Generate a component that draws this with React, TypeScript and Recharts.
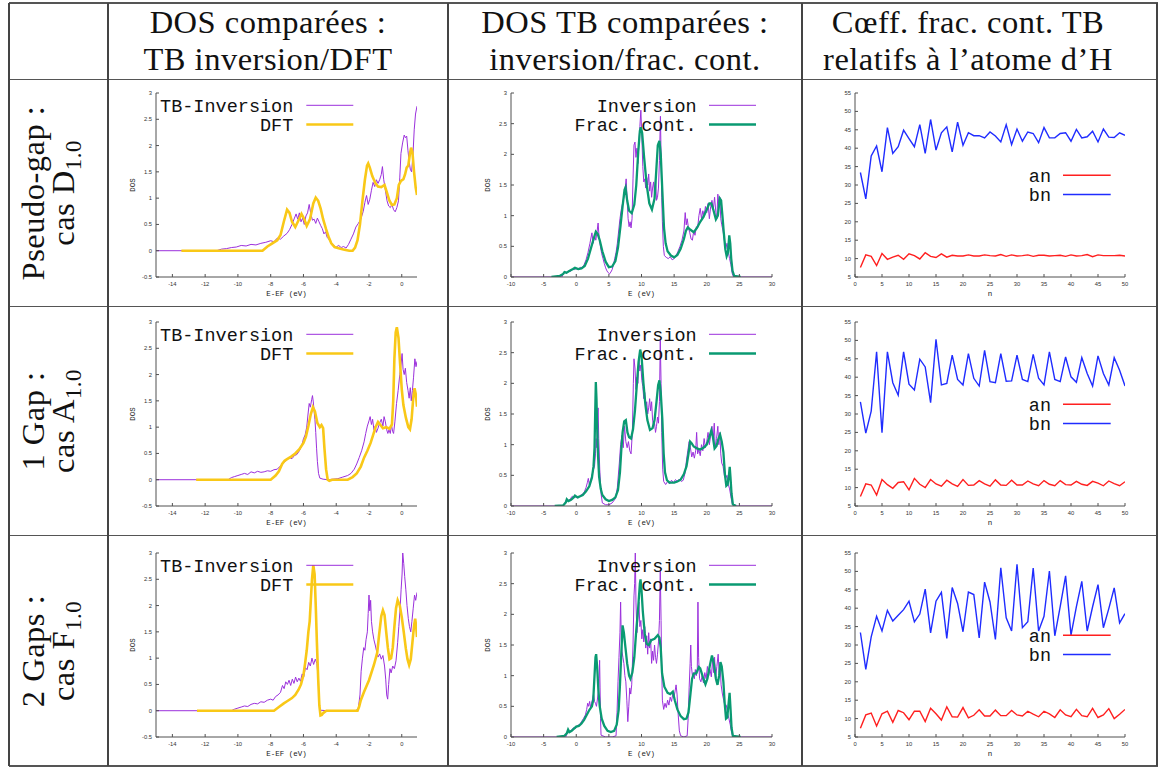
import React from 'react'
import { LineChart, Line, XAxis, YAxis } from 'recharts'

// ---------- column 1 : DOS, TB inversion vs DFT (E - EF in eV) ----------
const invD = [[-15,0],[-11.3,0],[-11,0.03],[-10.7,0.04],[-10.4,0.06],[-10.1,0.07],[-9.8,0.1],[-9.5,0.09],[-9.2,0.12],[-8.9,0.11],[-8.6,0.14],[-8.3,0.16],[-8.0,0.19],[-7.8,0.17],[-7.6,0.24],[-7.4,0.22],[-7.2,0.28],[-7.0,0.33],[-6.85,0.4],[-6.7,0.5],[-6.55,0.62],[-6.45,0.7],[-6.35,0.6],[-6.25,0.72],[-6.15,0.55],[-6.05,0.62],[-5.95,0.5],[-5.85,0.66],[-5.75,0.72],[-5.65,0.88],[-5.55,0.7],[-5.45,0.58],[-5.35,0.6],[-5.25,0.52],[-5.15,0.62],[-5.05,0.55],[-4.95,0.48],[-4.85,0.42],[-4.75,0.32],[-4.65,0.36],[-4.55,0.25],[-4.45,0.22],[-4.3,0.15],[-4.15,0.1],[-4.0,0.07],[-3.85,0.1],[-3.7,0.06],[-3.55,0.08],[-3.4,0.05],[-3.25,0.12],[-3.1,0.22],[-2.95,0.32],[-2.8,0.45],[-2.65,0.52],[-2.5,0.6],[-2.35,0.75],[-2.25,0.92],[-2.15,1.05],[-2.05,0.88],[-1.95,0.98],[-1.85,1.15],[-1.75,1.3],[-1.65,1.22],[-1.55,1.35],[-1.45,1.28],[-1.35,1.35],[-1.25,1.45],[-1.18,1.6],[-1.1,1.35],[-1.0,1.15],[-0.9,0.95],[-0.8,0.85],[-0.7,0.82],[-0.6,0.88],[-0.5,0.78],[-0.4,0.74],[-0.3,0.82],[-0.2,0.95],[-0.12,1.4],[-0.05,1.85],[0.05,2.05],[0.15,2.2],[0.22,2.15],[0.3,2.18],[0.38,1.9],[0.45,1.7],[0.52,1.55],[0.6,1.5],[0.68,1.8],[0.76,2.3],[0.84,2.6],[0.93,2.75]]
const dftD = [[-13.45,0],[-8.5,0],[-8.2,0.08],[-7.9,0.14],[-7.6,0.2],[-7.4,0.3],[-7.2,0.55],[-7.0,0.78],[-6.85,0.72],[-6.7,0.55],[-6.5,0.45],[-6.3,0.58],[-6.12,0.7],[-5.95,0.6],[-5.8,0.47],[-5.6,0.6],[-5.4,0.9],[-5.25,1.01],[-5.1,0.95],[-4.95,0.8],[-4.8,0.6],[-4.63,0.42],[-4.45,0.25],[-4.3,0.14],[-4.1,0.07],[-3.8,0.04],[-3.5,0.02],[-3.2,0.0],[-3.0,0.0],[-2.85,0.06],[-2.7,0.2],[-2.55,0.5],[-2.4,0.95],[-2.25,1.35],[-2.12,1.62],[-2.05,1.66],[-1.95,1.58],[-1.8,1.42],[-1.6,1.28],[-1.45,1.22],[-1.25,1.21],[-1.05,1.25],[-0.9,1.1],[-0.75,0.95],[-0.6,0.87],[-0.45,0.88],[-0.3,1.0],[-0.18,1.25],[-0.05,1.33],[0.1,1.36],[0.2,1.45],[0.3,1.58],[0.4,1.62],[0.5,1.85],[0.57,1.96],[0.65,1.88],[0.75,1.5],[0.85,1.2],[0.93,1.06]]
const invA = [[-15,0],[-10.6,0],[-10.4,0.04],[-10.2,0.06],[-10.0,0.08],[-9.8,0.1],[-9.6,0.12],[-9.4,0.1],[-9.2,0.15],[-9.0,0.13],[-8.8,0.16],[-8.6,0.14],[-8.4,0.15],[-8.2,0.17],[-8.0,0.16],[-7.8,0.19],[-7.6,0.2],[-7.45,0.25],[-7.3,0.3],[-7.15,0.34],[-7.0,0.38],[-6.85,0.42],[-6.7,0.4],[-6.55,0.46],[-6.4,0.48],[-6.25,0.55],[-6.1,0.65],[-6.0,0.78],[-5.9,0.85],[-5.8,1.0],[-5.72,1.25],[-5.65,1.45],[-5.58,1.38],[-5.5,1.52],[-5.45,1.6],[-5.4,1.48],[-5.35,1.3],[-5.3,1.15],[-5.25,0.9],[-5.2,0.6],[-5.15,0.35],[-5.08,0.12],[-5.0,0.03],[-4.8,0.01],[-4.5,0.0],[-4.2,0.01],[-3.9,0.02],[-3.6,0.05],[-3.3,0.08],[-3.1,0.12],[-2.9,0.2],[-2.75,0.3],[-2.6,0.42],[-2.45,0.55],[-2.3,0.72],[-2.2,0.88],[-2.1,1.02],[-2.0,1.12],[-1.93,1.2],[-1.85,1.05],[-1.78,1.15],[-1.7,0.95],[-1.62,1.02],[-1.55,0.9],[-1.45,0.98],[-1.35,1.08],[-1.25,1.15],[-1.15,1.02],[-1.08,1.2],[-1.0,1.1],[-0.92,0.95],[-0.85,0.88],[-0.78,0.95],[-0.7,0.88],[-0.63,1.05],[-0.56,0.92],[-0.5,0.88],[-0.42,1.1],[-0.32,1.45],[-0.22,1.7],[-0.12,2.0],[-0.04,2.2],[0.02,2.4],[0.08,2.1],[0.15,2.0],[0.22,2.12],[0.3,1.85],[0.38,1.7],[0.45,1.55],[0.52,1.75],[0.58,1.5],[0.65,1.7],[0.72,1.95],[0.8,2.3],[0.87,2.15],[0.93,2.25]]
const dftA = [[-12.55,0],[-8.0,0],[-7.7,0.08],[-7.5,0.16],[-7.3,0.3],[-7.15,0.36],[-7.0,0.39],[-6.75,0.44],[-6.5,0.5],[-6.25,0.58],[-6.0,0.7],[-5.85,0.82],[-5.7,1.02],[-5.55,1.25],[-5.42,1.38],[-5.3,1.3],[-5.15,1.08],[-5.0,1.0],[-4.9,1.04],[-4.8,0.98],[-4.72,0.6],[-4.62,0.2],[-4.52,0.0],[-4.42,-0.02],[-4.25,0.0],[-3.3,0.0],[-3.0,0.05],[-2.75,0.12],[-2.5,0.25],[-2.3,0.42],[-2.1,0.55],[-1.9,0.7],[-1.75,0.85],[-1.6,1.0],[-1.45,1.1],[-1.3,1.04],[-1.15,0.98],[-0.95,1.0],[-0.75,0.97],[-0.6,1.05],[-0.52,1.5],[-0.45,2.3],[-0.37,2.8],[-0.3,2.9],[-0.2,2.7],[-0.1,2.2],[0.0,1.72],[0.1,1.42],[0.25,1.18],[0.4,1.0],[0.5,0.96],[0.6,1.15],[0.7,1.55],[0.78,1.74],[0.86,1.62],[0.93,1.39]]
const invF = [[-15,0],[-10.4,0],[-10.2,0.03],[-10.0,0.05],[-9.8,0.07],[-9.6,0.09],[-9.4,0.08],[-9.2,0.12],[-9.0,0.14],[-8.8,0.13],[-8.6,0.17],[-8.4,0.16],[-8.2,0.2],[-8.0,0.22],[-7.85,0.2],[-7.7,0.27],[-7.55,0.3],[-7.4,0.35],[-7.28,0.48],[-7.18,0.42],[-7.08,0.55],[-6.98,0.5],[-6.88,0.58],[-6.78,0.48],[-6.68,0.6],[-6.58,0.52],[-6.48,0.64],[-6.38,0.55],[-6.28,0.62],[-6.18,0.56],[-6.08,0.7],[-5.98,0.65],[-5.88,0.82],[-5.78,0.78],[-5.68,0.92],[-5.58,0.85],[-5.48,1.0],[-5.38,0.88],[-5.28,0.98],[-5.18,0.9],[-5.1,0.6],[-5.05,0.2],[-5.0,0.01],[-4.5,0.0],[-2.8,0.0],[-2.65,0.05],[-2.55,0.3],[-2.48,0.75],[-2.4,1.0],[-2.32,1.2],[-2.25,1.15],[-2.18,1.35],[-2.1,1.5],[-2.05,1.85],[-2.0,2.2],[-1.95,1.9],[-1.9,2.1],[-1.85,1.7],[-1.78,1.5],[-1.7,1.35],[-1.62,1.25],[-1.55,1.15],[-1.45,1.02],[-1.35,1.08],[-1.25,0.98],[-1.15,1.05],[-1.05,0.85],[-0.98,0.6],[-0.92,0.3],[-0.86,0.22],[-0.8,0.5],[-0.72,0.8],[-0.65,0.72],[-0.55,0.85],[-0.45,0.8],[-0.35,0.95],[-0.25,1.3],[-0.18,1.6],[-0.1,1.95],[-0.04,2.3],[0.02,2.6],[0.06,3.0],[0.12,2.8],[0.18,2.55],[0.25,2.3],[0.32,2.0],[0.4,1.75],[0.47,1.6],[0.55,1.5],[0.62,1.7],[0.7,1.95],[0.78,2.2],[0.85,2.1],[0.93,2.25]]
const dftF = [[-12.5,0],[-7.8,0],[-7.5,0.07],[-7.2,0.14],[-7.0,0.18],[-6.7,0.24],[-6.5,0.3],[-6.3,0.4],[-6.15,0.5],[-6.0,0.68],[-5.9,0.9],[-5.8,1.15],[-5.7,1.5],[-5.62,1.7],[-5.55,2.1],[-5.48,2.5],[-5.4,2.77],[-5.32,2.6],[-5.25,2.0],[-5.18,1.3],[-5.1,0.6],[-5.03,0.1],[-4.96,-0.09],[-4.88,-0.08],[-4.78,-0.04],[-4.6,0.0],[-2.7,0.0],[-2.6,0.08],[-2.5,0.2],[-2.3,0.36],[-2.0,0.58],[-1.7,0.87],[-1.5,1.1],[-1.38,1.45],[-1.25,1.8],[-1.15,1.91],[-1.05,1.82],[-0.95,1.5],[-0.85,1.2],[-0.75,0.98],[-0.65,1.0],[-0.55,1.2],[-0.45,1.6],[-0.35,1.95],[-0.25,2.1],[-0.12,2.0],[0.0,1.78],[0.12,1.5],[0.25,1.18],[0.35,0.98],[0.45,0.87],[0.55,0.98],[0.65,1.3],[0.75,1.62],[0.82,1.75],[0.88,1.6],[0.93,1.4]]

// ---------- column 2 : DOS, inversion vs continued fraction (E in eV) ----------
const invD2 = [[-10,0],[-2.2,0],[-2.0,0.05],[-1.8,0.09],[-1.5,0.06],[-1.2,0.1],[-0.9,0.09],[-0.6,0.13],[-0.3,0.12],[0,0.14],[0.3,0.12],[0.6,0.16],[0.9,0.14],[1.2,0.2],[1.5,0.28],[1.8,0.4],[2.1,0.55],[2.4,0.72],[2.6,0.55],[2.8,0.68],[3.0,0.6],[3.2,0.75],[3.35,0.88],[3.5,0.65],[3.7,0.5],[3.9,0.38],[4.1,0.3],[4.3,0.22],[4.5,0.15],[4.7,0.1],[4.9,0.07],[5.1,0.05],[5.3,0.08],[5.5,0.12],[5.7,0.2],[5.9,0.3],[6.1,0.4],[6.3,0.55],[6.5,0.75],[6.7,0.95],[6.9,1.1],[7.1,1.2],[7.3,1.3],[7.5,1.45],[7.65,1.6],[7.8,1.25],[7.95,0.95],[8.1,0.82],[8.25,0.9],[8.4,0.8],[8.55,0.95],[8.7,1.6],[8.85,2.15],[9.0,2.2],[9.15,1.95],[9.3,2.1],[9.45,1.85],[9.6,2.2],[9.75,2.45],[9.9,2.72],[10.05,2.3],[10.2,1.8],[10.35,1.55],[10.5,1.6],[10.65,1.45],[10.8,1.62],[10.95,1.5],[11.1,1.68],[11.25,1.4],[11.4,1.55],[11.55,1.3],[11.7,1.45],[11.85,1.55],[12.0,1.35],[12.15,1.6],[12.3,1.25],[12.45,1.3],[12.6,1.45],[12.75,1.9],[12.9,2.62],[13.0,2.0],[13.1,1.3],[13.2,0.9],[13.35,0.5],[13.5,0.35],[13.8,0.32],[14.1,0.3],[14.4,0.33],[14.7,0.28],[15.0,0.3],[15.3,0.35],[15.6,0.42],[15.9,0.5],[16.2,0.6],[16.5,0.75],[16.7,1.05],[16.85,0.85],[17.0,0.95],[17.2,0.8],[17.4,0.72],[17.6,0.62],[17.8,0.6],[18.0,0.75],[18.2,0.68],[18.4,0.82],[18.6,0.8],[18.8,1.0],[19.0,1.12],[19.2,0.95],[19.4,1.08],[19.6,1.0],[19.8,1.15],[20.0,1.05],[20.2,1.2],[20.4,0.95],[20.6,1.15],[20.8,1.25],[21.0,1.1],[21.2,1.3],[21.4,1.05],[21.55,0.95],[21.7,1.35],[21.85,1.2],[22.0,1.3],[22.15,0.95],[22.3,0.85],[22.5,0.75],[22.7,0.6],[22.9,0.45],[23.1,0.55],[23.3,0.4],[23.5,0.3],[23.7,0.2],[23.9,0.06],[24.1,0],[30,0]]
const fcD = [[-3.8,0],[-2.5,0.02],[-2.0,0.05],[-1.8,0.08],[-1.5,0.07],[-1.0,0.1],[-0.5,0.13],[-0.2,0.15],[0.3,0.13],[0.8,0.14],[1.3,0.18],[1.8,0.3],[2.2,0.45],[2.6,0.6],[3.0,0.74],[3.3,0.7],[3.6,0.6],[4.0,0.42],[4.5,0.25],[5.0,0.16],[5.5,0.17],[6.0,0.26],[6.4,0.48],[6.8,0.85],[7.1,1.15],[7.4,1.42],[7.55,1.46],[7.8,1.25],[8.1,1.08],[8.5,1.04],[8.9,1.18],[9.2,1.5],[9.5,2.04],[9.75,2.38],[9.9,2.44],[10.1,2.35],[10.4,1.95],[10.8,1.5],[11.2,1.2],[11.6,1.1],[12.0,1.28],[12.3,1.8],[12.5,2.15],[12.75,2.22],[12.95,2.0],[13.2,1.39],[13.45,0.8],[13.7,0.55],[14.0,0.42],[14.5,0.35],[15.0,0.32],[15.5,0.36],[16.0,0.46],[16.5,0.62],[16.8,0.75],[17.1,0.81],[17.5,0.77],[18.0,0.73],[18.5,0.8],[19.0,0.9],[19.5,0.98],[20.0,1.1],[20.4,1.2],[20.7,1.2],[21.0,1.1],[21.4,0.94],[21.7,1.0],[22.0,1.28],[22.2,1.25],[22.4,1.0],[22.6,0.74],[22.85,0.45],[23.05,0.34],[23.25,0.4],[23.45,0.68],[23.6,0.55],[23.75,0.3],[23.95,0.1],[24.2,0.02],[25.2,0]]
const invA2 = [[-10,0],[-2,0],[-1.7,0.05],[-1.5,0.1],[-1.2,0.08],[-0.9,0.12],[-0.6,0.16],[-0.3,0.14],[0,0.15],[0.3,0.13],[0.6,0.17],[0.9,0.19],[1.2,0.22],[1.5,0.3],[1.7,0.38],[1.85,0.45],[2.0,0.35],[2.2,0.42],[2.4,0.5],[2.6,0.58],[2.8,0.65],[2.95,0.85],[3.05,1.1],[3.15,0.95],[3.25,1.4],[3.35,1.6],[3.45,1.1],[3.6,0.6],[3.8,0.2],[4.0,0.05],[4.5,0.02],[5.0,0.02],[5.5,0.05],[6.0,0.12],[6.3,0.3],[6.6,0.7],[6.8,1.0],[7.0,1.15],[7.2,0.95],[7.4,1.3],[7.6,1.05],[7.8,0.95],[8.0,1.05],[8.2,0.9],[8.4,0.85],[8.6,1.2],[8.75,2.0],[8.85,2.4],[9.0,2.25],[9.15,1.9],[9.3,2.1],[9.45,2.0],[9.6,2.4],[9.75,2.2],[9.9,2.3],[10.05,2.05],[10.2,1.95],[10.35,1.75],[10.5,1.85],[10.65,1.6],[10.8,1.7],[10.95,1.5],[11.1,1.6],[11.25,1.75],[11.4,1.55],[11.55,1.7],[11.7,1.4],[11.85,1.3],[12.0,1.35],[12.15,1.2],[12.3,1.3],[12.45,1.45],[12.6,1.35],[12.75,1.7],[12.88,2.7],[13.0,2.0],[13.1,1.2],[13.25,0.6],[13.4,0.4],[13.7,0.35],[14.0,0.4],[14.3,0.36],[14.6,0.42],[14.9,0.38],[15.2,0.43],[15.5,0.4],[15.8,0.44],[16.1,0.4],[16.4,0.42],[16.7,0.55],[16.9,0.75],[17.1,0.9],[17.3,1.05],[17.5,0.95],[17.7,0.8],[17.9,0.88],[18.1,0.78],[18.3,0.9],[18.45,1.2],[18.6,0.85],[18.8,0.92],[19.0,0.82],[19.2,1.0],[19.4,0.9],[19.6,1.1],[19.8,0.95],[20.0,1.05],[20.2,1.2],[20.4,1.0],[20.6,1.15],[20.8,1.3],[21.0,1.1],[21.15,1.35],[21.3,0.95],[21.5,1.1],[21.7,1.3],[21.85,1.0],[22.0,1.2],[22.15,0.85],[22.3,0.7],[22.5,0.65],[22.7,0.5],[22.9,0.45],[23.1,0.5],[23.3,0.35],[23.5,0.28],[23.7,0.15],[23.9,0.04],[24.1,0],[30,0]]
const fcA = [[-3.3,0],[-2.0,0.01],[-1.6,0.06],[-1.45,0.11],[-1.2,0.08],[-0.8,0.1],[-0.4,0.14],[-0.2,0.17],[0.2,0.14],[0.6,0.16],[1.0,0.18],[1.5,0.24],[2.0,0.32],[2.4,0.46],[2.65,0.65],[2.8,0.95],[2.9,1.5],[3.0,2.02],[3.1,1.75],[3.2,1.3],[3.35,0.8],[3.5,0.48],[3.75,0.28],[4.0,0.18],[4.5,0.11],[5.0,0.08],[5.5,0.1],[6.0,0.14],[6.4,0.26],[6.7,0.55],[6.9,0.9],[7.1,1.2],[7.35,1.38],[7.6,1.4],[7.85,1.2],[8.1,1.12],[8.4,1.1],[8.7,1.25],[9.0,1.56],[9.3,2.0],[9.55,2.35],[9.8,2.55],[10.0,2.45],[10.3,2.0],[10.6,1.65],[10.9,1.4],[11.3,1.24],[11.7,1.27],[12.0,1.4],[12.3,1.7],[12.55,1.97],[12.75,2.05],[12.95,1.85],[13.2,1.4],[13.4,0.85],[13.6,0.55],[13.9,0.42],[14.3,0.38],[15.0,0.38],[15.5,0.4],[16.0,0.43],[16.5,0.52],[16.9,0.65],[17.2,0.85],[17.45,1.05],[17.7,1.02],[18.0,0.97],[18.5,0.94],[19.0,0.92],[19.5,0.95],[20.0,1.0],[20.4,1.12],[20.7,1.23],[20.95,1.12],[21.2,0.94],[21.5,0.98],[21.8,1.1],[22.05,1.16],[22.3,1.05],[22.55,0.88],[22.8,0.5],[23.0,0.33],[23.2,0.35],[23.4,0.5],[23.52,0.64],[23.65,0.45],[23.8,0.2],[24.0,0.03],[24.5,0]]
const invF2 = [[-10,0],[-1.6,0],[-1.3,0.1],[-1.0,0.08],[-0.7,0.12],[-0.4,0.15],[-0.1,0.14],[0.2,0.19],[0.5,0.2],[0.8,0.25],[1.1,0.3],[1.4,0.36],[1.6,0.45],[1.75,0.55],[1.9,0.5],[2.05,0.58],[2.2,0.48],[2.35,0.55],[2.5,0.62],[2.65,0.7],[2.8,0.58],[2.95,0.55],[3.1,0.5],[3.25,0.62],[3.4,0.75],[3.5,0.95],[3.58,1.25],[3.65,0.8],[3.72,0.3],[3.8,0.03],[4.5,0.0],[5.5,0.0],[6.1,0.02],[6.25,0.4],[6.4,0.9],[6.55,1.3],[6.7,1.7],[6.8,2.2],[6.9,1.6],[7.0,1.4],[7.15,1.3],[7.3,1.2],[7.45,1.0],[7.6,0.9],[7.75,0.6],[7.9,0.25],[8.05,0.5],[8.2,0.8],[8.35,0.7],[8.5,0.85],[8.7,1.5],[8.85,2.3],[8.95,2.5],[9.05,3.0],[9.15,2.2],[9.3,1.7],[9.45,1.95],[9.6,2.2],[9.75,1.8],[9.9,1.9],[10.05,1.6],[10.2,1.75],[10.35,1.55],[10.5,1.8],[10.65,1.45],[10.8,1.65],[10.95,1.35],[11.1,1.7],[11.25,1.45],[11.4,1.6],[11.55,1.2],[11.7,1.4],[11.85,1.25],[12.0,1.5],[12.15,1.3],[12.3,1.2],[12.45,1.35],[12.6,1.55],[12.75,1.9],[12.88,2.7],[13.0,1.9],[13.1,1.1],[13.2,0.6],[13.4,0.45],[13.6,0.55],[13.8,0.48],[14.0,0.6],[14.2,0.52],[14.4,0.65],[14.6,0.58],[14.8,0.7],[15.0,0.66],[15.15,0.75],[15.3,0.85],[15.45,0.7],[15.6,0.4],[15.8,0.1],[16.0,0.02],[16.5,0.0],[17.0,0.02],[17.15,0.3],[17.3,0.8],[17.45,1.2],[17.55,1.5],[17.65,1.15],[17.8,1.0],[17.95,1.05],[18.1,0.95],[18.25,1.1],[18.4,1.0],[18.55,1.1],[18.65,2.2],[18.75,1.3],[18.9,0.95],[19.1,0.9],[19.3,1.0],[19.5,0.88],[19.7,1.05],[19.9,0.95],[20.1,1.15],[20.3,1.0],[20.5,1.1],[20.7,0.98],[20.9,1.25],[21.05,1.05],[21.2,1.3],[21.35,0.95],[21.55,1.15],[21.75,1.35],[21.9,1.05],[22.05,1.15],[22.2,0.85],[22.4,0.7],[22.6,0.6],[22.8,0.5],[23.0,0.52],[23.2,0.38],[23.4,0.3],[23.6,0.2],[23.8,0.08],[24.0,0],[30,0]]
const fcF = [[-3.0,0],[-1.8,0.02],[-1.45,0.06],[-1.25,0.12],[-1.05,0.08],[-0.7,0.1],[-0.3,0.14],[0,0.17],[0.4,0.18],[0.8,0.22],[1.2,0.28],[1.6,0.36],[2.0,0.44],[2.4,0.5],[2.6,0.6],[2.8,1.0],[2.95,1.3],[3.05,1.35],[3.2,1.15],[3.4,0.75],[3.6,0.5],[3.9,0.3],[4.3,0.18],[4.8,0.1],[5.3,0.08],[5.8,0.1],[6.2,0.2],[6.5,0.44],[6.7,0.85],[6.9,1.35],[7.1,1.82],[7.3,1.7],[7.55,1.45],[7.8,1.2],[8.1,1.0],[8.3,0.95],[8.6,1.05],[8.9,1.3],[9.2,1.74],[9.5,2.12],[9.75,2.5],[9.85,2.57],[10.0,2.4],[10.2,2.05],[10.5,1.68],[10.8,1.52],[11.1,1.5],[11.5,1.58],[12.0,1.6],[12.5,1.66],[12.75,1.62],[12.95,1.45],[13.15,1.04],[13.5,0.82],[14.0,0.72],[14.4,0.7],[14.8,0.74],[15.1,0.6],[15.5,0.45],[16.0,0.34],[16.5,0.29],[16.9,0.3],[17.2,0.4],[17.5,0.7],[17.75,0.95],[18.0,1.03],[18.4,1.04],[18.8,1.14],[19.0,1.12],[19.4,0.98],[19.8,0.86],[20.1,0.95],[20.5,1.18],[20.8,1.33],[21.1,1.2],[21.4,0.95],[21.65,0.85],[21.9,1.0],[22.1,1.22],[22.3,1.15],[22.55,0.9],[22.75,0.55],[22.95,0.3],[23.15,0.32],[23.35,0.55],[23.5,0.72],[23.65,0.45],[23.8,0.15],[24.0,0.02],[25.2,0]]

// ---------- column 3 : continued fraction coefficients an, bn ----------
const nVals = [1,2,3,4,5,6,7,8,9,10,11,12,13,14,15,16,17,18,19,20,21,22,23,24,25,26,27,28,29,30,31,32,33,34,35,36,37,38,39,40,41,42,43,44,45,46,47,48,49,50]
const anD = [7.6,11.0,10.6,8.1,11.4,9.8,10.4,10.9,9.8,11.3,10.8,9.9,11.6,10.6,10.3,11.3,10.4,10.9,10.7,10.7,11.0,10.7,10.7,11.0,10.8,10.7,11.1,10.6,11.0,10.7,10.8,11.0,10.6,10.9,10.9,10.7,10.8,10.9,10.6,11.0,10.7,10.8,11.1,10.5,11.0,10.8,10.8,10.8,10.9,10.7]
const bnD = [33.4,26.2,37.9,40.6,33.6,45.6,38.6,40.4,44.9,42.6,40.4,46.4,38.6,47.8,39.5,44.2,45.8,39.0,47.1,40.8,44.2,43.4,43.4,42.8,44.4,43.3,41.7,46.4,41.0,45.2,41.9,44.4,44.0,41.5,45.6,42.8,42.8,44.0,44.2,41.9,45.1,42.8,43.1,44.6,41.7,45.2,43.0,42.9,44.2,43.5]
const anA = [7.6,11.0,10.7,8.0,12.2,10.8,9.8,11.4,11.6,9.4,12.5,10.9,10.0,12.2,11.0,10.4,12.0,11.0,10.3,12.2,10.6,10.7,11.9,11.0,10.4,12.1,10.7,10.6,12.0,10.7,10.7,11.8,11.0,10.5,11.9,10.9,10.5,11.9,10.8,10.7,11.7,10.9,10.6,11.7,11.2,10.5,11.8,11.1,10.5,11.6]
const bnA = [33.3,24.8,30.8,46.9,24.9,46.9,38.5,35.1,46.9,38.1,36.5,44.9,42.8,33.1,50.3,37.9,38.3,46.0,39.4,37.9,46.4,39.7,37.6,47.3,38.8,38.5,46.4,38.9,39.0,46.0,39.4,38.8,46.2,39.7,37.9,46.9,39.4,38.8,45.5,40.1,38.6,45.3,41.0,37.6,45.8,41.0,37.9,45.3,41.9,37.6]
const anF = [7.4,11.0,11.5,8.0,11.3,12.0,9.0,12.2,11.6,9.7,12.0,12.0,9.2,12.8,11.3,9.6,13.2,10.5,10.4,13.0,10.2,10.9,12.4,10.7,10.7,12.3,10.8,10.8,12.2,11.0,10.7,12.0,11.2,10.5,12.0,11.3,10.3,12.4,11.0,10.5,12.5,10.8,10.5,12.8,10.3,11.0,12.7,10.0,11.2,12.5]
const bnF = [33.4,23.4,32.2,37.8,33.8,39.4,36.5,38.1,39.6,41.9,36.3,38.4,45.2,33.3,41.9,44.3,31.8,45.6,41.3,33.6,44.4,43.7,31.9,47.1,41.7,31.5,51.0,37.4,33.8,51.9,34.7,36.3,50.9,33.8,37.8,50.1,32.5,40.4,48.8,32.7,40.4,47.3,33.8,40.4,46.4,34.7,39.9,45.5,36.0,38.5]

// ---------- ticks ----------
const eTicks1 = [-14, -12, -10, -8, -6, -4, -2, 0]
const dosTicks1 = [-0.5, 0, 0.5, 1, 1.5, 2, 2.5, 3]
const eTicks2 = [-10, -5, 0, 5, 10, 15, 20, 25, 30]
const dosTicks2 = [0, 0.5, 1, 1.5, 2, 2.5, 3]
const nTicks = [0, 5, 10, 15, 20, 25, 30, 35, 40, 45, 50]
const coefTicks = [5, 10, 15, 20, 25, 30, 35, 40, 45, 50, 55]

const headers = [
  ['DOS comparées :', 'TB inversion/DFT'],
  ['DOS TB comparées :', 'inversion/frac. cont.'],
  ['Cœff. frac. cont. TB', 'relatifs à l’atome d’H'],
]
const rowNames = [['Pseudo-gap :', 'D'], ['1 Gap :', 'A'], ['2 Gaps :', 'F']]

const PURPLE = '#9b30dc'
const YELLOW = '#f9c817'
const GREEN = '#0a9a72'
const RED = '#ff1f1f'
const BLUE = '#1f2cff'

const pts = (a: number[][]) => a.map(([x, y]) => ({ x, y }))
const coefRows = (an: number[], bn: number[]) => nVals.map((n, i) => ({ x: n, an: an[i], bn: bn[i] }))

const L = 30, T = 6, R = 6, B = 24
const serif = '"Liberation Serif", "Times New Roman", serif'
const mono = '"Liberation Mono", "Courier New", monospace'
const sans = '"Liberation Sans", Arial, sans-serif'

type Serie = { data?: any[]; key: string; color: string; w: number; name: string }
type Leg = { tx: number; l1: number; l2: number; by: number; ly: number }

function Panel(p: {
  fx: number; fy: number; pw: number; ph: number
  xDomain: number[]; xTicks: number[]; yDomain: number[]; yTicks: number[]
  xLabel: string; yLabel?: string; data?: any[]; lines: Serie[]; leg: Leg
}) {
  const W = L + p.pw + R
  const H = T + p.ph + B
  const stroke = '#505050'
  const tickFont = { fontSize: 5.8, fill: '#333', fontFamily: sans }
  const labStyle = { fontSize: 7.5, fill: '#222', fontFamily: mono }
  return (
    <div style={{ position: 'absolute', left: p.fx - L, top: p.fy - T, width: W, height: H }}>
      <LineChart width={W} height={H} data={p.data} margin={{ top: T, right: R, left: 0, bottom: 0 }}>
        <XAxis xAxisId="b" dataKey="x" type="number" domain={p.xDomain} ticks={p.xTicks} interval={0}
          allowDataOverflow height={B} stroke={stroke} tickSize={-3} tickMargin={8} tick={tickFont}
          label={{ value: p.xLabel, position: 'insideBottom', offset: 5, style: labStyle }} />
        <XAxis xAxisId="t" orientation="top" dataKey="x" type="number" domain={p.xDomain} ticks={p.xTicks}
          interval={0} allowDataOverflow height={0} stroke={stroke} tickSize={-3} tick={false} />
        <YAxis yAxisId="l" type="number" domain={p.yDomain} ticks={p.yTicks} interval={0} allowDataOverflow
          width={L} stroke={stroke} tickSize={-3} tickMargin={7} tick={tickFont}
          label={p.yLabel ? { value: p.yLabel, angle: -90, position: 'insideLeft', offset: 6, style: { ...labStyle, textAnchor: 'middle' } } : undefined} />
        <YAxis yAxisId="r" orientation="right" type="number" domain={p.yDomain} ticks={p.yTicks} interval={0}
          allowDataOverflow width={0} stroke={stroke} tickSize={-3} tick={false} />
        {p.lines.map((s) => (
          <Line key={s.name} xAxisId="b" yAxisId="l" data={s.data} dataKey={s.key} type="linear"
            stroke={s.color} strokeWidth={s.w} dot={false} activeDot={false} isAnimationActive={false} />
        ))}
      </LineChart>
      <svg width={W} height={H} style={{ position: 'absolute', left: 0, top: 0, overflow: 'visible', pointerEvents: 'none' }}>
        {p.lines.map((s, i) => (
          <g key={s.name}>
            <text x={L + p.leg.tx} y={T + p.leg.by + i * 19.2} textAnchor="end" fontFamily={mono} fontSize={18.5} fill="#111">{s.name}</text>
            <line x1={L + p.leg.l1} x2={L + p.leg.l2} y1={T + p.leg.ly + i * 19.2} y2={T + p.leg.ly + i * 19.2} stroke={s.color} strokeWidth={s.w} />
          </g>
        ))}
      </svg>
    </div>
  )
}

const colX = [156, 511, 855]
const colW = [261, 261, 270]
const rowY = [93, 322, 553]
const PH = 184

const leg1: Leg = { tx: 137.3, l1: 150.3, l2: 197.3, by: 19, ly: 12.3 }
const leg2: Leg = { tx: 185.7, l1: 198, l2: 245, by: 19, ly: 12.3 }
const leg3: Leg = { tx: 196, l1: 208, l2: 255.7, by: 89, ly: 82.3 }

const col1 = [[invD, dftD], [invA, dftA], [invF, dftF]]
const col2 = [[invD2, fcD], [invA2, fcA], [invF2, fcF]]
const col3 = [[anD, bnD], [anA, bnA], [anF, bnF]]

const hLines = [3, 79.5, 306.5, 535.5, 766]
const vLines = [9, 108, 448, 802, 1157]
const rowCenters = [193, 421, 651]
const colCenters = [268, 625, 968]

export default function App() {
  return (
    <div style={{ position: 'absolute', left: 0, top: 0, width: 1162, height: 769, background: '#fff', overflow: 'hidden' }}>
      {hLines.map((y) => (
        <div key={'h' + y} style={{ position: 'absolute', left: 9, top: y - 0.75, width: 1149, height: 1.5, background: '#555' }} />
      ))}
      {vLines.map((x) => (
        <div key={'v' + x} style={{ position: 'absolute', left: x - 0.75, top: 3, width: 1.5, height: 763, background: '#444' }} />
      ))}
      {headers.map((h, i) => (
        <div key={'hd' + i} style={{ position: 'absolute', left: colCenters[i] - 180, top: 4, width: 360, textAlign: 'center',
          fontFamily: serif, fontSize: 32.5, letterSpacing: 0.5, lineHeight: '36.7px', color: '#111', whiteSpace: 'nowrap' }}>
          {h[0]}<br />{h[1]}
        </div>
      ))}
      {rowNames.map((r, i) => (
        <div key={'rn' + i} style={{ position: 'absolute', left: 50, top: rowCenters[i], transform: 'translate(-50%, -50%) rotate(-90deg)',
          fontFamily: serif, fontSize: 32.5, letterSpacing: 0.5, lineHeight: '30px', color: '#111', whiteSpace: 'nowrap', textAlign: 'center' }}>
          {r[0]}<br />cas {r[1]}<span style={{ fontSize: '0.7em', position: 'relative', top: '0.3em' }}>1.0</span>
        </div>
      ))}
      {rowY.map((fy, r) => (
        <React.Fragment key={'row' + r}>
          <Panel fx={colX[0]} fy={fy} pw={colW[0]} ph={PH} xDomain={[-15, 0.93]} xTicks={eTicks1}
            yDomain={[-0.5, 3]} yTicks={dosTicks1} xLabel="E-EF (eV)" yLabel="DOS" leg={leg1}
            lines={[
              { data: pts(col1[r][0]), key: 'y', color: PURPLE, w: 1, name: 'TB-Inversion' },
              { data: pts(col1[r][1]), key: 'y', color: YELLOW, w: 2.6, name: 'DFT' },
            ]} />
          <Panel fx={colX[1]} fy={fy} pw={colW[1]} ph={PH} xDomain={[-10, 30]} xTicks={eTicks2}
            yDomain={[0, 3]} yTicks={dosTicks2} xLabel="E (eV)" yLabel="DOS" leg={leg2}
            lines={[
              { data: pts(col2[r][0]), key: 'y', color: PURPLE, w: 1, name: 'Inversion' },
              { data: pts(col2[r][1]), key: 'y', color: GREEN, w: 2.3, name: 'Frac. cont.' },
            ]} />
          <Panel fx={colX[2]} fy={fy} pw={colW[2]} ph={PH} xDomain={[0, 50]} xTicks={nTicks}
            yDomain={[5, 55]} yTicks={coefTicks} xLabel="n" leg={leg3} data={coefRows(col3[r][0], col3[r][1])}
            lines={[
              { key: 'an', color: RED, w: 1.4, name: 'an' },
              { key: 'bn', color: BLUE, w: 1.4, name: 'bn' },
            ]} />
        </React.Fragment>
      ))}
    </div>
  )
}
